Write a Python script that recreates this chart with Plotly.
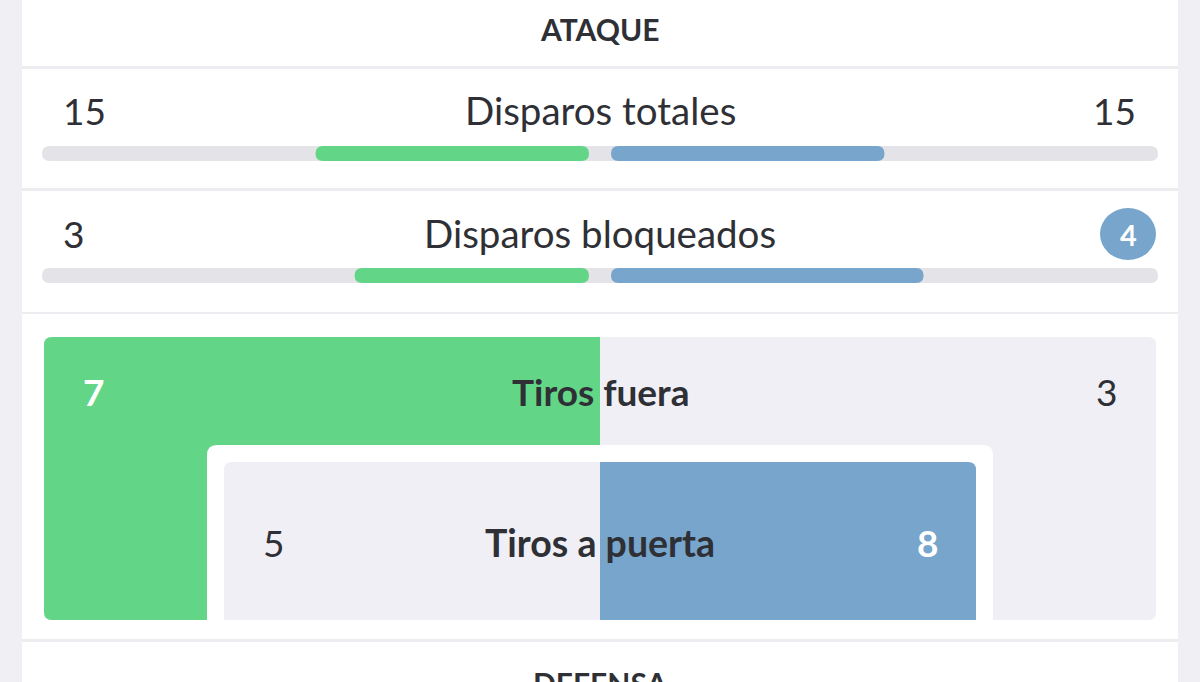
import plotly.graph_objects as go

# ---------------- data ----------------
section_titles = ["ATAQUE", "DEFENSA"]
categories = ["Disparos totales", "Disparos bloqueados", "Tiros fuera", "Tiros a puerta"]
home_values = [15, 3, 7, 5]
away_values = [15, 4, 3, 8]

# ---------------- style ----------------
GREEN = "#63D587"
BLUE = "#77A5CC"
TRACK = "#E4E4E8"
PANEL = "#EFEFF5"
BG = "#EFEFF4"
WHITE = "#FFFFFF"
TEXT = "#2E3035"
SEP = "#EDEDF1"
FONT = "Lato"

W, H = 1200, 682
CARD_X0, CARD_X1 = 22, 1178
CENTER = 600
GAP = 11
TRACK_X0, TRACK_X1 = 42, 1158
TRACK_L = CENTER - GAP - TRACK_X0
BAR_H = 15

shapes = []
annotations = []


def rrect(x0, y0, x1, y1, fill, r_tl=0, r_tr=0, r_br=0, r_bl=0, layer="below"):
    path = (
        f"M{x0 + r_tl},{y0} L{x1 - r_tr},{y0} Q{x1},{y0} {x1},{y0 + r_tr} "
        f"L{x1},{y1 - r_br} Q{x1},{y1} {x1 - r_br},{y1} "
        f"L{x0 + r_bl},{y1} Q{x0},{y1} {x0},{y1 - r_bl} "
        f"L{x0},{y0 + r_tl} Q{x0},{y0} {x0 + r_tl},{y0} Z"
    )
    return dict(type="path", path=path, xref="x", yref="y", fillcolor=fill,
                line=dict(width=0), layer=layer)


def text(x, y, s, size, color=TEXT, bold=False, xanchor="center", yanchor="middle"):
    annotations.append(dict(
        x=x, y=y, xref="x", yref="y", text=f"<b>{s}</b>" if bold else s,
        showarrow=False, xanchor=xanchor, yanchor=yanchor,
        font=dict(family=FONT, size=size, color=color)))


# white card
shapes.append(dict(type="rect", x0=CARD_X0, x1=CARD_X1, y0=0, y1=H, xref="x", yref="y",
                   fillcolor=WHITE, line=dict(width=0), layer="below"))
# separators
for y0, y1 in [(66, 69), (188, 191), (312, 314), (639, 642)]:
    shapes.append(dict(type="rect", x0=CARD_X0, x1=CARD_X1, y0=y0, y1=y1, xref="x", yref="y",
                       fillcolor=SEP, line=dict(width=0), layer="below"))

# section headers
text(CENTER, 29, section_titles[0], 30, bold=True)
text(CENTER, 663, section_titles[1], 30, bold=True, yanchor="top")

# ---------------- bar rows ----------------
bar_rows = [(111, 146), (234, 268)]  # (label y, track top y)
r = BAR_H / 2
for i, (ly, ty) in enumerate(bar_rows):
    h, a = home_values[i], away_values[i]
    tot = h + a
    # track
    shapes.append(rrect(TRACK_X0, ty, TRACK_X1, ty + BAR_H, TRACK, r, r, r, r))
    # home bar (grows leftwards from center)
    hl = h / tot * TRACK_L
    shapes.append(rrect(CENTER - GAP - hl, ty, CENTER - GAP, ty + BAR_H, GREEN, r, r, r, r))
    # away bar (grows rightwards)
    al = a / tot * TRACK_L
    shapes.append(rrect(CENTER + GAP, ty, CENTER + GAP + al, ty + BAR_H, BLUE, r, r, r, r))

    text(CENTER, ly - 1, categories[i], 38.5)
    # home value
    if h > a:
        shapes.append(dict(type="circle", x0=44, x1=100, y0=ly - 26, y1=ly + 26,
                           xref="x", yref="y", fillcolor=GREEN, line=dict(width=0)))
        text(72, ly, str(h), 29, color=WHITE, bold=True)
    else:
        text(61, ly - 1, str(h), 37, xanchor="left")
    # away value
    if a > h:
        shapes.append(dict(type="circle", x0=1100, x1=1156, y0=ly - 26, y1=ly + 26,
                           xref="x", yref="y", fillcolor=BLUE, line=dict(width=0)))
        text(1128, ly, str(a), 29, color=WHITE, bold=True)
    else:
        text(1138, ly - 1, str(a), 37, xanchor="right")

# ---------------- goal panels ----------------
# outer: Tiros fuera
OX0, OY0, OX1, OY1 = 44, 337, 1156, 620
h, a = home_values[2], away_values[2]
shapes.append(rrect(OX0, OY0, OX1, OY1, PANEL, 8, 8, 8, 8))
if h > a:
    shapes.append(rrect(OX0, OY0, CENTER, OY1, GREEN, 8, 0, 0, 8))
elif a > h:
    shapes.append(rrect(CENTER, OY0, OX1, OY1, BLUE, 0, 8, 8, 0))

# inner white frame
shapes.append(rrect(207, 445, 993, OY1, WHITE, 10, 10, 0, 0))
# inner: Tiros a puerta
IX0, IY0, IX1, IY1 = 224, 462, 976, 620
h2, a2 = home_values[3], away_values[3]
shapes.append(rrect(IX0, IY0, IX1, IY1, PANEL, 8, 8, 0, 0))
if h2 > a2:
    shapes.append(rrect(IX0, IY0, CENTER, IY1, GREEN, 8, 0, 0, 0))
elif a2 > h2:
    shapes.append(rrect(CENTER, IY0, IX1, IY1, BLUE, 0, 8, 0, 0))

# texts for panels
text(CENTER, 391, categories[2], 37, bold=True)
text(81, 391, str(h), 37, color=WHITE if h > a else TEXT, bold=h > a, xanchor="left")
text(1119, 391, str(a), 37, color=WHITE if a > h else TEXT, bold=a > h, xanchor="right")

text(CENTER, 542, categories[3], 37.5, bold=True)
text(261, 542, str(h2), 37, color=WHITE if h2 > a2 else TEXT, bold=h2 > a2, xanchor="left")
text(940, 542, str(a2), 37, color=WHITE if a2 > h2 else TEXT, bold=a2 > h2, xanchor="right")

fig = go.Figure()
fig.add_trace(go.Scatter(x=[0, W], y=[0, H], mode="markers", marker=dict(opacity=0),
                         hoverinfo="skip", showlegend=False))
fig.update_layout(
    width=W, height=H,
    margin=dict(l=0, r=0, t=0, b=0),
    paper_bgcolor=BG, plot_bgcolor=BG,
    xaxis=dict(range=[0, W], visible=False, fixedrange=True),
    yaxis=dict(range=[H, 0], visible=False, fixedrange=True),
    shapes=shapes, annotations=annotations,
    showlegend=False,
)
fig.write_html(
    "out.html",
    config={"displayModeBar": False},
    post_script="document.body.style.margin='0';document.body.style.overflow='hidden';",
)
